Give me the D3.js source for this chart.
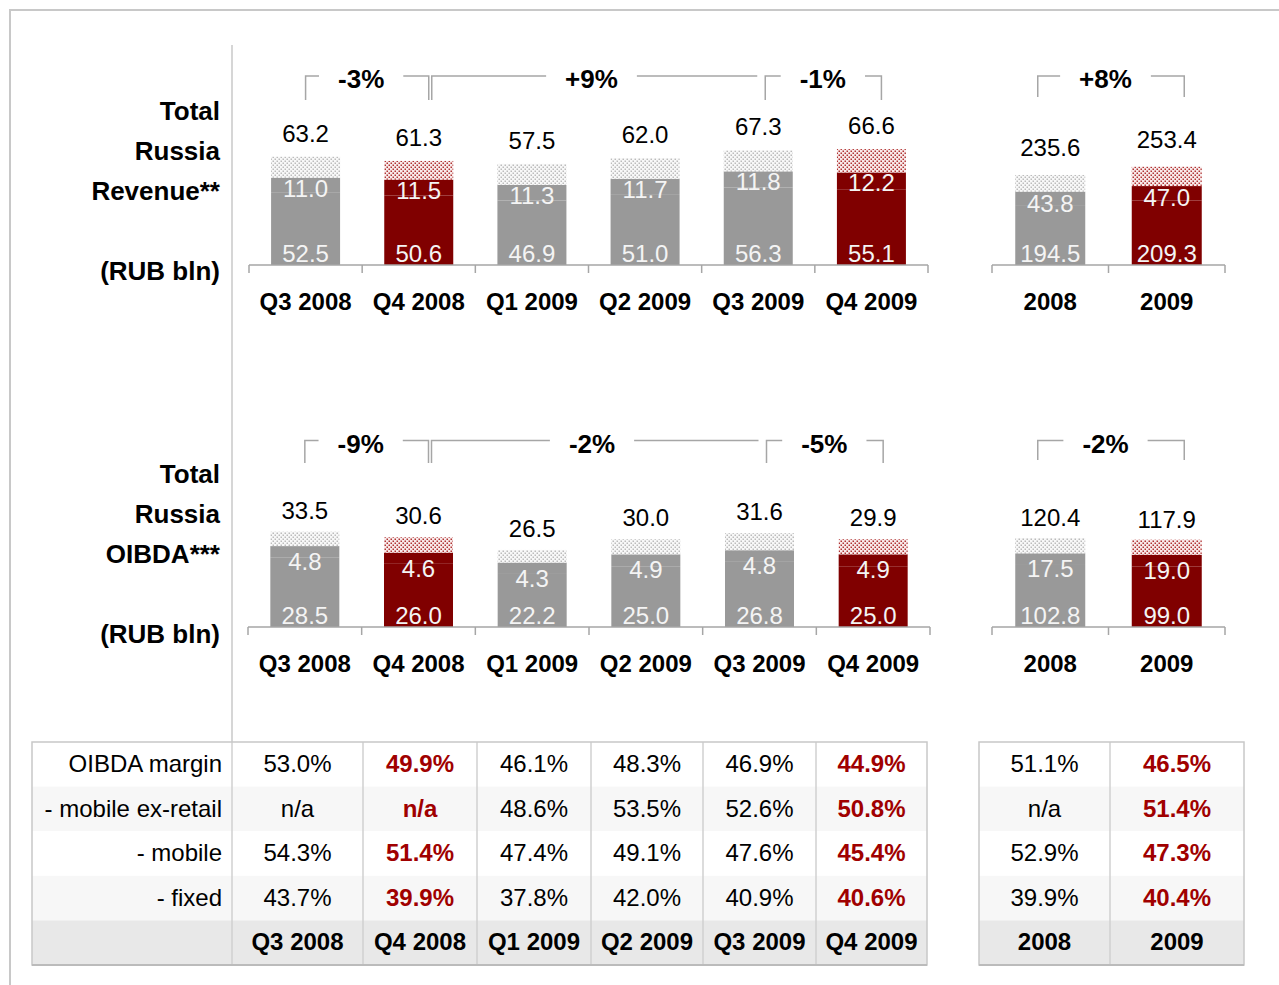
<!DOCTYPE html>
<html>
<head>
<meta charset="utf-8">
<script src="https://cdn.jsdelivr.net/npm/d3@7"></script>
<style>
  body { margin: 0; background: #fff; }
  svg text { font-family: "Liberation Sans", Arial, sans-serif; }
</style>
</head>
<body>
<div id="chart"></div>
<script>
// categories
var quarters = ["Q3 2008", "Q4 2008", "Q1 2009", "Q2 2009", "Q3 2009", "Q4 2009"];
var years = ["2008", "2009"];
var highlight = ["Q4 2008", "Q4 2009", "2009"];

// revenue (RUB bln)
var revMobileQ = [52.5, 50.6, 46.9, 51.0, 56.3, 55.1];
var revFixedQ = [11.0, 11.5, 11.3, 11.7, 11.8, 12.2];
var revOtherQ = [15.3, 13.6, 15.3, 15.0, 15.3, 17.0]; // dotted part
var revTotalQ = [63.2, 61.3, 57.5, 62.0, 67.3, 66.6];
var revMobileY = [194.5, 209.3];
var revFixedY = [43.8, 47.0];
var revOtherY = [54.0, 63.0];
var revTotalY = [235.6, 253.4];
var revGrowthQ = ["-3%", "+9%", "-1%"];
var revGrowthY = ["+8%"];

// OIBDA (RUB bln)
var oibdaMobileQ = [28.5, 26.0, 22.2, 25.0, 26.8, 25.0];
var oibdaFixedQ = [4.8, 4.6, 4.3, 4.9, 4.8, 4.9];
var oibdaOtherQ = [5.9, 6.3, 5.2, 6.2, 7.0, 6.2];
var oibdaTotalQ = [33.5, 30.6, 26.5, 30.0, 31.6, 29.9];
var oibdaMobileY = [102.8, 99.0];
var oibdaFixedY = [17.5, 19.0];
var oibdaOtherY = [25.0, 24.5];
var oibdaTotalY = [120.4, 117.9];
var oibdaGrowthQ = ["-9%", "-2%", "-5%"];
var oibdaGrowthY = ["-2%"];

// margin table
var marginLabels = ["OIBDA margin", "- mobile ex-retail", "- mobile", "- fixed"];
var marginQ = [
  ["53.0%", "49.9%", "46.1%", "48.3%", "46.9%", "44.9%"],
  ["n/a", "n/a", "48.6%", "53.5%", "52.6%", "50.8%"],
  ["54.3%", "51.4%", "47.4%", "49.1%", "47.6%", "45.4%"],
  ["43.7%", "39.9%", "37.8%", "42.0%", "40.9%", "40.6%"]
];
var marginY = [
  ["51.1%", "46.5%"],
  ["n/a", "51.4%"],
  ["52.9%", "47.3%"],
  ["39.9%", "40.4%"]
];

var grey = "#999999";
var red = "#800000";
var tableRed = "#a00000";
var lineGrey = "#a6a6a6";

var svg = d3.select("#chart").append("svg")
  .attr("width", 1279)
  .attr("height", 985);

// dotted fills
var defs = svg.append("defs");
function addDots(id, bg, dot) {
  var p = defs.append("pattern")
    .attr("id", id)
    .attr("patternUnits", "userSpaceOnUse")
    .attr("width", 4)
    .attr("height", 4);
  p.append("rect").attr("width", 4).attr("height", 4).attr("fill", bg);
  p.append("rect").attr("x", 0.5).attr("y", 0.5).attr("width", 1.5).attr("height", 1.5).attr("fill", dot);
  p.append("rect").attr("x", 2.5).attr("y", 2.5).attr("width", 1.5).attr("height", 1.5).attr("fill", dot);
}
addDots("dotsGrey", "#f8f8f8", "#bcbcbc");
addDots("dotsRed", "#f8eaea", "#b03333");

// frame + separator
svg.append("path")
  .attr("d", "M10,985 V10 H1279")
  .attr("fill", "none")
  .attr("stroke", "#c8c8c8")
  .attr("stroke-width", 2);
svg.append("line")
  .attr("x1", 232).attr("x2", 232)
  .attr("y1", 45).attr("y2", 742)
  .attr("stroke", "#c8c8c8")
  .attr("stroke-width", 1.5);

// left titles
function sideTitle(lines, ys) {
  lines.forEach(function(t, i) {
    svg.append("text")
      .attr("x", 220)
      .attr("y", ys[i])
      .attr("text-anchor", "end")
      .attr("font-size", 26)
      .attr("font-weight", "bold")
      .text(t);
  });
}
sideTitle(["Total", "Russia", "Revenue**", "(RUB bln)"], [120, 160, 200, 280]);
sideTitle(["Total", "Russia", "OIBDA***", "(RUB bln)"], [483, 523, 563, 643]);

function drawPanel(o) {
  var g = svg.append("g");

  var x = d3.scaleBand().domain(o.cats).range(o.xRange);
  var y = d3.scaleLinear().domain([0, o.yMax]).range([o.base, o.top]);
  var bw = x.bandwidth();

  var rows = o.cats.map(function(c, i) {
    return { cat: c, mobile: o.mobile[i], fixed: o.fixed[i], other: o.other[i], total: o.totals[i] };
  });
  var series = d3.stack().keys(["mobile", "fixed", "other"])(rows);

  series.forEach(function(s) {
    g.selectAll(null)
      .data(s)
      .enter()
      .append("rect")
      .attr("x", d => x(d.data.cat) + (bw - o.barW) / 2)
      .attr("width", o.barW)
      .attr("y", d => y(d[1]))
      .attr("height", d => y(d[0]) - y(d[1]))
      .attr("fill", function(d) {
        var hot = highlight.indexOf(d.data.cat) >= 0;
        if (s.key === "other") return hot ? "url(#dotsRed)" : "url(#dotsGrey)";
        return hot ? red : grey;
      });
  });

  // values in / above bars
  g.selectAll(null).data(rows).enter().append("text")
    .attr("x", d => x(d.cat) + bw / 2)
    .attr("y", o.base - 3)
    .attr("text-anchor", "middle")
    .attr("font-size", 24)
    .attr("fill", "#f4f4f4")
    .text(d => d3.format(".1f")(d.mobile));
  g.selectAll(null).data(rows).enter().append("text")
    .attr("x", d => x(d.cat) + bw / 2)
    .attr("y", d => y(d.mobile + d.fixed) + o.fixedDy)
    .attr("text-anchor", "middle")
    .attr("font-size", 24)
    .attr("fill", "#f4f4f4")
    .text(d => d3.format(".1f")(d.fixed));
  g.selectAll(null).data(rows).enter().append("text")
    .attr("x", d => x(d.cat) + bw / 2)
    .attr("y", d => y(d.mobile + d.fixed + d.other) - o.totalDy)
    .attr("text-anchor", "middle")
    .attr("font-size", 24)
    .attr("fill", "#000")
    .text(d => d3.format(".1f")(d.total));

  // axis labels
  var axis = g.append("g")
    .attr("transform", `translate(0, ${o.base})`)
    .call(d3.axisBottom(x).tickSize(0).tickPadding(28));
  axis.select(".domain").remove();
  axis.attr("font-family", null).attr("font-size", 24).attr("font-weight", "bold");
  axis.selectAll("text").attr("fill", "#000");

  // baseline with ticks on category borders
  g.append("line")
    .attr("x1", o.xRange[0]).attr("x2", o.xRange[1])
    .attr("y1", o.base).attr("y2", o.base)
    .attr("stroke", lineGrey).attr("stroke-width", 1.5);
  var edges = o.cats.map(c => x(c)).concat([o.xRange[1]]);
  g.selectAll(null).data(edges).enter().append("line")
    .attr("x1", d => d).attr("x2", d => d)
    .attr("y1", o.base).attr("y2", o.base + 8)
    .attr("stroke", lineGrey).attr("stroke-width", 1.5);

  // growth brackets
  var c = function(i) { return x(o.cats[i]) + bw / 2; };
  o.brackets.forEach(function(b) {
    var x1 = c(b.from) + b.dx1;
    var x2 = c(b.to) + b.dx2;
    var tx = x(o.cats[b.textAt]) + b.tdx;
    var t = g.append("text")
      .attr("x", tx)
      .attr("y", o.bracketTop + 12)
      .attr("text-anchor", "middle")
      .attr("font-size", 26)
      .attr("font-weight", "bold")
      .text(b.label);
    var half = t.node().getComputedTextLength() / 2 + 19;
    var left = "M" + x1 + "," + (b.legL ? o.bracketBot : o.bracketTop) + " V" + o.bracketTop + " H" + (tx - half);
    var right = "M" + (tx + half) + "," + o.bracketTop + " H" + x2 + (b.legR ? " V" + o.bracketBot : "");
    g.append("path")
      .attr("d", left + " " + right)
      .attr("fill", "none")
      .attr("stroke", lineGrey)
      .attr("stroke-width", 1.5);
  });
}

function quarterBrackets(labels) {
  return [
    { label: labels[0], from: 0, to: 1, dx1: 0, dx2: 10, legL: true, legR: true, textAt: 1, tdx: -1 },
    { label: labels[1], from: 1, to: 4, dx1: 13, dx2: -1, legL: true, legR: false, textAt: 3, tdx: 3 },
    { label: labels[2], from: 4, to: 5, dx1: 7, dx2: 10, legL: true, legR: true, textAt: 5, tdx: 8 }
  ];
}
function yearBrackets(labels) {
  return [
    { label: labels[0], from: 0, to: 1, dx1: -12.5, dx2: 17.5, legL: true, legR: true, textAt: 1, tdx: -3 }
  ];
}

// revenue
drawPanel({
  cats: quarters, xRange: [249, 928], barW: 69, base: 265, yMax: 80, top: 155,
  mobile: revMobileQ, fixed: revFixedQ, other: revOtherQ, totals: revTotalQ,
  fixedDy: 19, totalDy: 15, bracketTop: 76, bracketBot: 100, brackets: quarterBrackets(revGrowthQ)
});
drawPanel({
  cats: years, xRange: [992, 1225], barW: 70, base: 265, yMax: 300, top: 172.6,
  mobile: revMobileY, fixed: revFixedY, other: revOtherY, totals: revTotalY,
  fixedDy: 20, totalDy: 19, bracketTop: 76, bracketBot: 97, brackets: yearBrackets(revGrowthY)
});

// OIBDA
drawPanel({
  cats: quarters, xRange: [248, 930], barW: 69, base: 627, yMax: 40, top: 529.8,
  mobile: oibdaMobileQ, fixed: oibdaFixedQ, other: oibdaOtherQ, totals: oibdaTotalQ,
  fixedDy: 24, totalDy: 13, bracketTop: 440.5, bracketBot: 463, brackets: quarterBrackets(oibdaGrowthQ)
});
drawPanel({
  cats: years, xRange: [992, 1225], barW: 70, base: 627, yMax: 160, top: 529,
  mobile: oibdaMobileY, fixed: oibdaFixedY, other: oibdaOtherY, totals: oibdaTotalY,
  fixedDy: 24, totalDy: 12, bracketTop: 440.5, bracketBot: 460, brackets: yearBrackets(oibdaGrowthY)
});

// margin tables
var tableTop = 742;
var rowH = 44.6;
var rowFill = ["#ffffff", "#f7f7f7", "#ffffff", "#f7f7f7", "#e8e8e8"];

function drawTable(edges, cats, values, labels) {
  var g = svg.append("g");
  var x0 = edges[0], x1 = edges[edges.length - 1];
  var colStart = labels ? 1 : 0;

  rowFill.forEach(function(f, r) {
    g.append("rect")
      .attr("x", x0).attr("y", tableTop + r * rowH)
      .attr("width", x1 - x0).attr("height", rowH)
      .attr("fill", f);
  });

  g.selectAll(null).data(edges.slice(1, -1)).enter().append("line")
    .attr("x1", d => d).attr("x2", d => d)
    .attr("y1", tableTop).attr("y2", tableTop + 5 * rowH)
    .attr("stroke", "#d0d0d0").attr("stroke-width", 1.5);

  g.append("rect")
    .attr("x", x0).attr("y", tableTop)
    .attr("width", x1 - x0).attr("height", 5 * rowH)
    .attr("fill", "none").attr("stroke", "#c8c8c8").attr("stroke-width", 1.5);
  g.append("line")
    .attr("x1", x0).attr("x2", x1)
    .attr("y1", tableTop + 5 * rowH).attr("y2", tableTop + 5 * rowH)
    .attr("stroke", "#bbbbbb").attr("stroke-width", 2);

  if (labels) {
    labels.forEach(function(t, r) {
      g.append("text")
        .attr("x", edges[1] - 10)
        .attr("y", tableTop + r * rowH + 30)
        .attr("text-anchor", "end")
        .attr("font-size", 24)
        .text(t);
    });
  }

  cats.forEach(function(cat, j) {
    var cx = (edges[colStart + j] + edges[colStart + j + 1]) / 2;
    var hot = highlight.indexOf(cat) >= 0;
    values.forEach(function(row, r) {
      g.append("text")
        .attr("x", cx)
        .attr("y", tableTop + r * rowH + 30)
        .attr("text-anchor", "middle")
        .attr("font-size", 24)
        .attr("font-weight", hot ? "bold" : "normal")
        .attr("fill", hot ? tableRed : "#000")
        .text(row[j]);
    });
    g.append("text")
      .attr("x", cx)
      .attr("y", tableTop + 4 * rowH + 30)
      .attr("text-anchor", "middle")
      .attr("font-size", 24)
      .attr("font-weight", "bold")
      .text(cat);
  });
}

drawTable([32, 232, 363, 477, 591, 703, 816, 927], quarters, marginQ, marginLabels);
drawTable([979, 1110, 1244], years, marginY, null);
</script>
</body>
</html>
